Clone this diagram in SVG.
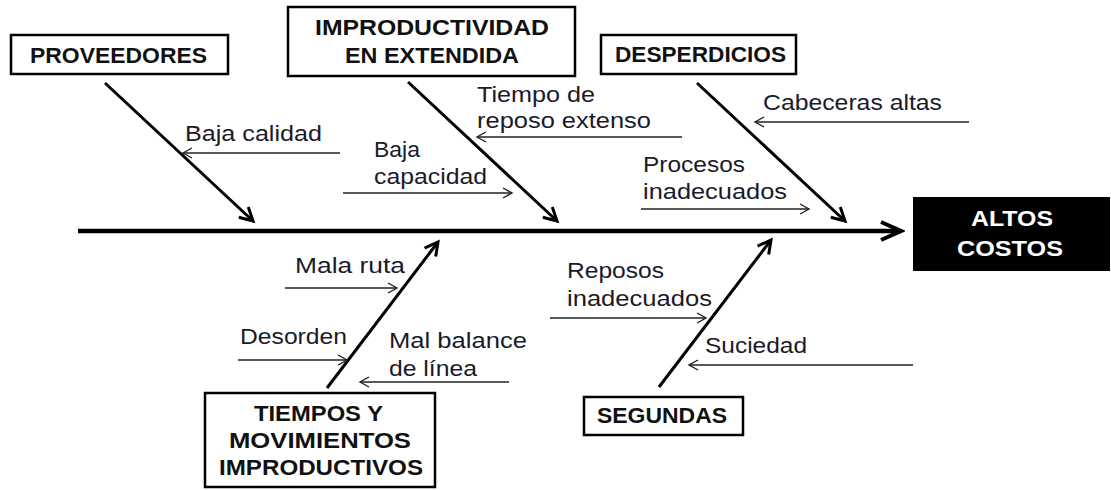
<svg xmlns="http://www.w3.org/2000/svg" width="1111" height="490" viewBox="0 0 1111 490">
<style>
.box{fill:#fff;stroke:#000;stroke-width:2.5}
.hdr{font-family:"Liberation Sans",Arial,sans-serif;font-weight:bold;font-size:22px;fill:#111}
.lbl{font-family:"Liberation Sans",Arial,sans-serif;font-size:22px;fill:#1a1a2a}
.bone{stroke:#000;stroke-width:3;fill:none}
.spine{stroke:#000;stroke-width:4.5;fill:none}
.sub{stroke:#222;stroke-width:1.4;fill:none}
</style>
<defs>
<marker id="mBig" markerUnits="userSpaceOnUse" viewBox="-16 -10 20 20" markerWidth="20" markerHeight="20" refX="0" refY="0" orient="auto">
<path d="M-13,-7 L0,0 L-13,7" fill="none" stroke="#000" stroke-width="3"/>
</marker>
<marker id="mSpine" markerUnits="userSpaceOnUse" viewBox="-24 -12 28 24" markerWidth="28" markerHeight="24" refX="0" refY="0" orient="auto">
<path d="M-20,-9 L0,0 L-20,9" fill="none" stroke="#000" stroke-width="4"/>
</marker>
<marker id="mSmall" markerUnits="userSpaceOnUse" viewBox="-12 -8 14 16" markerWidth="14" markerHeight="16" refX="0" refY="0" orient="auto">
<path d="M-9,-5 L0,0 L-9,5" fill="none" stroke="#222" stroke-width="1.4"/>
</marker>
</defs>

<g id="connectors">
<line class="spine" x1="78" y1="231" x2="901" y2="231" marker-end="url(#mSpine)"/>
<line class="bone" x1="105" y1="83" x2="253" y2="221" marker-end="url(#mBig)"/>
<line class="bone" x1="408" y1="82" x2="557" y2="221" marker-end="url(#mBig)"/>
<line class="bone" x1="697" y1="83" x2="845" y2="221" marker-end="url(#mBig)"/>
<line class="bone" x1="327" y1="388" x2="438" y2="242" marker-end="url(#mBig)"/>
<line class="bone" x1="659" y1="387" x2="771" y2="240" marker-end="url(#mBig)"/>
<line class="sub" x1="340" y1="153" x2="183" y2="153" marker-end="url(#mSmall)"/>
<line class="sub" x1="343" y1="193" x2="512" y2="193" marker-end="url(#mSmall)"/>
<line class="sub" x1="682" y1="137" x2="477" y2="137" marker-end="url(#mSmall)"/>
<line class="sub" x1="969" y1="122" x2="755" y2="122" marker-end="url(#mSmall)"/>
<line class="sub" x1="641" y1="209" x2="809" y2="209" marker-end="url(#mSmall)"/>
<line class="sub" x1="285" y1="288" x2="397" y2="288" marker-end="url(#mSmall)"/>
<line class="sub" x1="238" y1="360" x2="347" y2="360" marker-end="url(#mSmall)"/>
<line class="sub" x1="509" y1="382" x2="360" y2="382" marker-end="url(#mSmall)"/>
<line class="sub" x1="550" y1="318" x2="706" y2="318" marker-end="url(#mSmall)"/>
<line class="sub" x1="913" y1="365" x2="689" y2="365" marker-end="url(#mSmall)"/>
</g>

<g id="labels">
<text class="lbl" x="185" y="141" textLength="137" lengthAdjust="spacingAndGlyphs">Baja calidad</text>
<text class="lbl" x="477" y="102" textLength="118" lengthAdjust="spacingAndGlyphs">Tiempo de</text>
<text class="lbl" x="477" y="128" textLength="174" lengthAdjust="spacingAndGlyphs">reposo extenso</text>
<text class="lbl" x="374" y="157" textLength="46" lengthAdjust="spacingAndGlyphs">Baja</text>
<text class="lbl" x="374" y="184" textLength="113" lengthAdjust="spacingAndGlyphs">capacidad</text>
<text class="lbl" x="763" y="110" textLength="179" lengthAdjust="spacingAndGlyphs">Cabeceras altas</text>
<text class="lbl" x="643" y="172" textLength="102" lengthAdjust="spacingAndGlyphs">Procesos</text>
<text class="lbl" x="643" y="199" textLength="144" lengthAdjust="spacingAndGlyphs">inadecuados</text>
<text class="lbl" x="295" y="273" textLength="110" lengthAdjust="spacingAndGlyphs">Mala ruta</text>
<text class="lbl" x="240" y="344" textLength="107" lengthAdjust="spacingAndGlyphs">Desorden</text>
<text class="lbl" x="389" y="348" textLength="138" lengthAdjust="spacingAndGlyphs">Mal balance</text>
<text class="lbl" x="389" y="376" textLength="88" lengthAdjust="spacingAndGlyphs">de línea</text>
<text class="lbl" x="567" y="278" textLength="97" lengthAdjust="spacingAndGlyphs">Reposos</text>
<text class="lbl" x="567" y="306" textLength="145" lengthAdjust="spacingAndGlyphs">inadecuados</text>
<text class="lbl" x="705" y="353" textLength="102" lengthAdjust="spacingAndGlyphs">Suciedad</text>
</g>

<g id="proveedores">
<rect class="box" x="11" y="35" width="217" height="39"/>
<text class="hdr" x="30" y="63" textLength="177" lengthAdjust="spacingAndGlyphs">PROVEEDORES</text>
</g>
<g id="improductividad">
<rect class="box" x="288" y="7" width="287" height="69"/>
<text class="hdr" x="315" y="35" textLength="234" lengthAdjust="spacingAndGlyphs">IMPRODUCTIVIDAD</text>
<text class="hdr" x="345" y="63" textLength="174" lengthAdjust="spacingAndGlyphs">EN EXTENDIDA</text>
</g>
<g id="desperdicios">
<rect class="box" x="601" y="35" width="195" height="39"/>
<text class="hdr" x="615" y="62" textLength="171" lengthAdjust="spacingAndGlyphs">DESPERDICIOS</text>
</g>
<g id="altos-costos">
<rect x="913" y="197" width="197" height="74" fill="#000"/>
<text class="hdr" style="fill:#fff" x="971" y="226" textLength="82" lengthAdjust="spacingAndGlyphs">ALTOS</text>
<text class="hdr" style="fill:#fff" x="957" y="256" textLength="106" lengthAdjust="spacingAndGlyphs">COSTOS</text>
</g>
<g id="tiempos">
<rect class="box" x="205" y="393" width="230" height="94"/>
<text class="hdr" x="254" y="421" textLength="129" lengthAdjust="spacingAndGlyphs">TIEMPOS Y</text>
<text class="hdr" x="229" y="448" textLength="182" lengthAdjust="spacingAndGlyphs">MOVIMIENTOS</text>
<text class="hdr" x="219" y="475" textLength="204" lengthAdjust="spacingAndGlyphs">IMPRODUCTIVOS</text>
</g>
<g id="segundas">
<rect class="box" x="584" y="397" width="159" height="38"/>
<text class="hdr" x="597" y="423" textLength="130" lengthAdjust="spacingAndGlyphs">SEGUNDAS</text>
</g>
</svg>
